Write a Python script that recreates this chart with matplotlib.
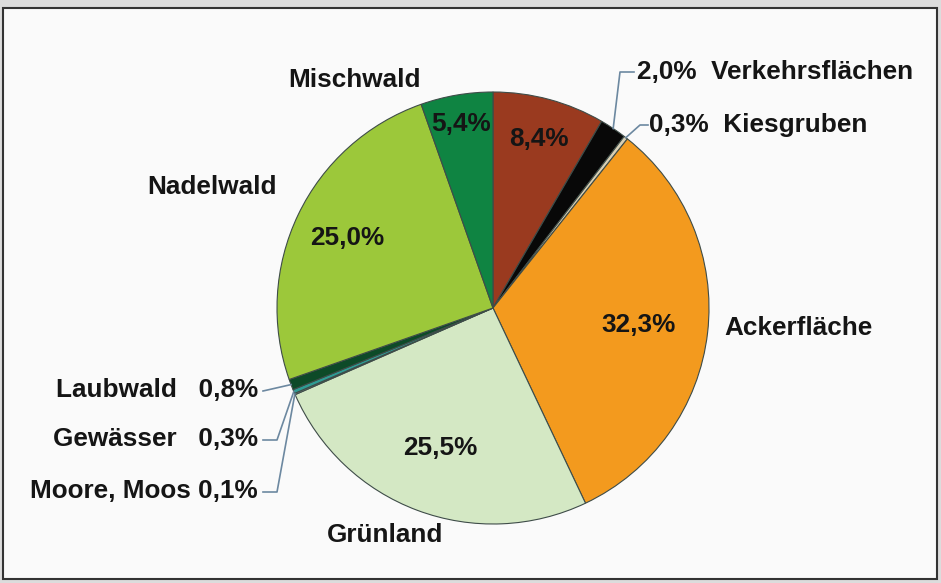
import numpy as np
import matplotlib
matplotlib.use('Agg')
import matplotlib.pyplot as plt
from matplotlib.patches import Rectangle

W, H = 941, 583

categories = ['Siedlung', 'Verkehrsflächen', 'Kiesgruben', 'Ackerfläche', 'Grünland',
              'Moore, Moos', 'Gewässer', 'Laubwald', 'Nadelwald', 'Mischwald']
shares = [8.4, 2.0, 0.3, 32.3, 25.5, 0.1, 0.3, 0.8, 25.0, 5.4]
share_labels = ['8,4%', '2,0%', '0,3%', '32,3%', '25,5%', '0,1%', '0,3%', '0,8%', '25,0%', '5,4%']
colors = ['#9a3a1f', '#080808', '#d8cfb4', '#f39a1e', '#d4e8c4',
          '#b8c4c0', '#2f9c94', '#0d4a28', '#9cc83a', '#0f8442']

plt.rcParams['font.family'] = ['Liberation Sans', 'DejaVu Sans']
FS = 18.8

fig = plt.figure(figsize=(W / 100, H / 100), dpi=100)
fig.patch.set_facecolor('#dcdcdc')
ax = fig.add_axes([0, 0, 1, 1])
ax.set_xlim(0, W)
ax.set_ylim(0, H)
ax.axis('off')

# frame
ax.add_patch(Rectangle((3, 4), 934, H - 12, facecolor='#fafafa',
                       edgecolor='#333333', lw=1.5, zorder=0))

cx, cy, r = 493, H - 308, 216
wedges, _ = ax.pie(shares, colors=colors, startangle=90, counterclock=False,
                   center=(cx, cy), radius=r,
                   wedgeprops=dict(edgecolor='#3e4c48', linewidth=0.8))
ax.set_aspect('equal')
ax.set_xlim(0, W)
ax.set_ylim(0, H)


def mid_angle(w):
    return np.deg2rad((w.theta1 + w.theta2) / 2)


def edge_point(i, f=1.0):
    a = mid_angle(wedges[i])
    return cx + f * r * np.cos(a), cy + f * r * np.sin(a)


txt = dict(fontsize=FS, fontweight='bold', color='#151515')

# labels inside the wedges
inner = {0: 0.81, 3: 0.68, 4: 0.69, 8: 0.75, 9: 0.865}
for i, f in inner.items():
    x, y = edge_point(i, f)
    ax.text(x, y, share_labels[i], ha='center', va='center', **txt)

# names outside
ax.text(724, H - 328, categories[3], ha='left', va='center', **txt)
ax.text(385, H - 535, categories[4], ha='center', va='center', **txt)
ax.text(212, H - 187, categories[8], ha='center', va='center', **txt)
ax.text(355, H - 80, categories[9], ha='center', va='center', **txt)

lc = dict(color='#6c88a0', lw=1.2)

# top right small wedges
x0, y0 = edge_point(1)
ax.plot([x0, 620, 634], [y0, H - 72, H - 72], **lc)
ax.text(637, H - 72, share_labels[1] + '  ' + categories[1], ha='left', va='center', **txt)
x0, y0 = edge_point(2)
ax.plot([x0, 640, 648], [y0, H - 125, H - 125], **lc)
ax.text(649, H - 125, share_labels[2] + '  ' + categories[2], ha='left', va='center', **txt)

# left small wedges
x0, y0 = edge_point(7)
ax.plot([x0, 263], [y0, H - 391], **lc)
ax.text(258, H - 390, categories[7] + '   ' + share_labels[7], ha='right', va='center', **txt)
for i, ty in [(6, 440), (5, 492)]:
    x0, y0 = edge_point(i)
    ax.plot([x0, 277, 263], [y0, H - ty, H - ty], **lc)
    sep = '   ' if i == 6 else ' '
    ax.text(258, H - ty + 1, categories[i] + sep + share_labels[i], ha='right', va='center', **txt)

fig.savefig('out.png', dpi=100)
